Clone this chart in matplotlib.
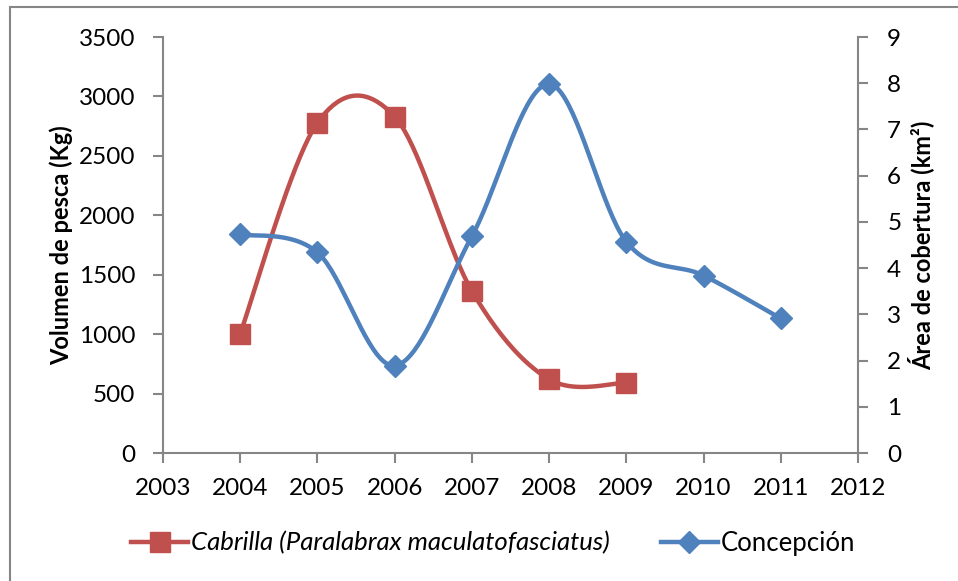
import numpy as np
import matplotlib
matplotlib.use("Agg")
import matplotlib.pyplot as plt
from matplotlib.patches import Rectangle

plt.rcParams['font.family'] = ['Lato', 'DejaVu Sans']

years_cab = [2004, 2005, 2006, 2007, 2008, 2009]
cabrilla = [1005, 2779, 2830, 1363, 620, 591]
years_con = [2004, 2005, 2006, 2007, 2008, 2009, 2010, 2011]
concepcion = [4.73, 4.34, 1.89, 4.69, 7.98, 4.57, 3.84, 2.91]
left_ticks = [0, 500, 1000, 1500, 2000, 2500, 3000, 3500]
right_ticks = [0, 1, 2, 3, 4, 5, 6, 7, 8, 9]
x_ticks = list(range(2003, 2013))
label_cab = "Cabrilla (Paralabrax maculatofasciatus)"
label_con = "Concepción"

RED = "#C0504D"
BLUE = "#4F81BD"
AXC = "#868686"


def smooth(x, y, n=40):
    x = np.asarray(x, float)
    y = np.asarray(y, float)
    xs, ys = [], []
    N = len(x)
    for i in range(N - 1):
        p0 = max(i - 1, 0)
        p3 = min(i + 2, N - 1)
        mx1 = (x[i + 1] - x[p0]) / 2 if i > 0 else (x[i + 1] - x[i]) / 2
        my1 = (y[i + 1] - y[p0]) / 2 if i > 0 else (y[i + 1] - y[i]) / 2
        mx2 = (x[p3] - x[i]) / 2 if i + 1 < N - 1 else (x[i + 1] - x[i]) / 2
        my2 = (y[p3] - y[i]) / 2 if i + 1 < N - 1 else (y[i + 1] - y[i]) / 2
        t = np.linspace(0, 1, n)
        h00 = 2 * t**3 - 3 * t**2 + 1
        h10 = t**3 - 2 * t**2 + t
        h01 = -2 * t**3 + 3 * t**2
        h11 = t**3 - t**2
        xs.append(h00 * x[i] + h10 * mx1 + h01 * x[i + 1] + h11 * mx2)
        ys.append(h00 * y[i] + h10 * my1 + h01 * y[i + 1] + h11 * my2)
    return np.concatenate(xs), np.concatenate(ys)


fig = plt.figure(figsize=(9.58, 5.81), dpi=100)
W, H = 958, 581
ax = fig.add_axes([163 / W, 1 - 453 / H, (858 - 163) / W, (453 - 37) / H])
ax2 = ax.twinx()

# outer chart border
fig.patches.append(Rectangle((10 / W, -0.1), 1.2, 1 - 7 / H + 0.1, transform=fig.transFigure,
                             fill=False, edgecolor=AXC, linewidth=1.5))

sx, sy = smooth(years_cab, cabrilla)
ax.plot(sx, sy, color=RED, lw=3.2, solid_capstyle='round', zorder=3)
ax.plot(years_cab, cabrilla, ls='none', marker='s', ms=14, color=RED, zorder=4)

bx, by = smooth(years_con, concepcion)
ax2.plot(bx, by, color=BLUE, lw=3.2, solid_capstyle='round', zorder=3)
ax2.plot(years_con, concepcion, ls='none', marker='D', ms=11, color=BLUE, zorder=4)

ax.set_xlim(2003, 2012)
ax.set_ylim(0, 3500)
ax2.set_ylim(0, 9)
ax.set_xticks(x_ticks)
ax.set_yticks(left_ticks)
ax2.set_yticks(right_ticks)

for a in (ax, ax2):
    for s in a.spines.values():
        s.set_visible(False)
    a.tick_params(colors=AXC, labelcolor='black', labelsize=17.5, width=1.5, length=7)
ax.spines['left'].set_visible(True)
ax.spines['bottom'].set_visible(True)
ax2.spines['right'].set_visible(True)
for s in (ax.spines['left'], ax.spines['bottom'], ax2.spines['right']):
    s.set_color(AXC)
    s.set_linewidth(1.5)
ax.tick_params(axis='y', pad=13)
ax.tick_params(axis='x', pad=11)
ax2.tick_params(axis='y', pad=14)

ax.set_ylabel("Volumen de pesca (Kg)", fontsize=17, fontweight='bold', labelpad=4)
ax2.set_ylabel("Área de cobertura (km²)", fontsize=17, fontweight='bold', labelpad=4)

h1 = plt.Line2D([], [], color=RED, lw=3.2, marker='s', ms=14)
h2 = plt.Line2D([], [], color=BLUE, lw=3.2, marker='D', ms=11)
leg = fig.legend([h1, h2], [label_cab, label_con], loc='center', ncol=2,
                 bbox_to_anchor=(0.515, 1 - 543 / H), frameon=False, fontsize=18.5,
                 handlelength=2.2, handletextpad=0.12, columnspacing=2.0)
leg.get_texts()[0].set_style('italic')

fig.savefig("out.png", dpi=100)
